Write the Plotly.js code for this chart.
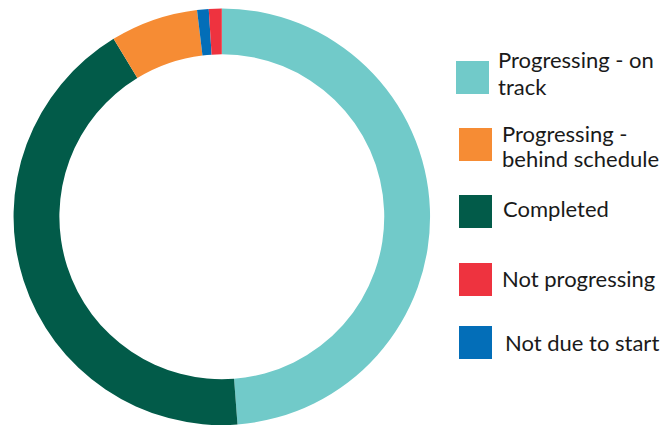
<!DOCTYPE html>
<html>
<head>
<meta charset="utf-8">
<script src="https://cdn.plot.ly/plotly-3.0.1.min.js"></script>
<style>html,body{margin:0;padding:0;background:#fff;}#chart{width:666px;height:425px;}</style>
</head>
<body>
<div id="chart"></div>
<script>
// Slice data in drawing order (clockwise from 12 o'clock), percent shares
const sliceLabels = ["Progressing - on track", "Completed", "Progressing - behind schedule", "Not due to start", "Not progressing"];
const sliceValues = [48.8, 42.5, 6.8, 0.9, 1.0];
const sliceColors = ["#71CAC9", "#025B49", "#F68C34", "#036EB8", "#EE333F"];

// Legend entries in legend order (each entry: list of text lines)
const legendLines = [["Progressing - on", "track"], ["Progressing -", "behind schedule"], ["Completed"], ["Not progressing"], ["Not due to start"]];
const legendColors = ["#71CAC9", "#F68C34", "#025B49", "#EE333F", "#036EB8"];

const W = 666, H = 425;
// legend geometry (pixels from top-left)
const sqX = [456, 459, 459, 459, 459];
const sqY = [61, 128, 195, 263, 326];
const sqS = 33;
const txtX = [496, 500, 501, 500, 503];
const lineY = [[60, 86], [133, 158.5], [209], [278.5], [342]];

const shapes = [], annotations = [];
for (let i = 0; i < legendLines.length; i++) {
  shapes.push({
    type: "rect", xref: "paper", yref: "paper",
    x0: sqX[i] / W, x1: (sqX[i] + sqS) / W,
    y0: 1 - (sqY[i] + sqS) / H, y1: 1 - sqY[i] / H,
    fillcolor: legendColors[i], line: {width: 0}
  });
  legendLines[i].forEach((t, j) => {
    annotations.push({
      xref: "paper", yref: "paper",
      x: txtX[i] / W, y: 1 - lineY[i][j] / H,
      xanchor: "left", yanchor: "middle", align: "left",
      text: t, showarrow: false,
      font: {family: "Lato, sans-serif", size: 22, color: "#1a1a1a"}
    });
  });
}

const data = [{
  type: "pie",
  labels: sliceLabels,
  values: sliceValues,
  marker: {colors: sliceColors, line: {width: 0}},
  hole: 0.78,
  sort: false,
  direction: "clockwise",
  rotation: 0,
  textinfo: "none",
  hoverinfo: "skip",
  showlegend: false,
  domain: {x: [0.0195, 0.6466], y: [0, 0.98]}
}];

const layout = {
  width: W, height: H,
  margin: {l: 0, r: 0, t: 0, b: 0},
  paper_bgcolor: "#ffffff",
  showlegend: false,
  shapes: shapes,
  annotations: annotations
};

Plotly.newPlot("chart", data, layout, {displayModeBar: false, staticPlot: true});
</script>
</body>
</html>
